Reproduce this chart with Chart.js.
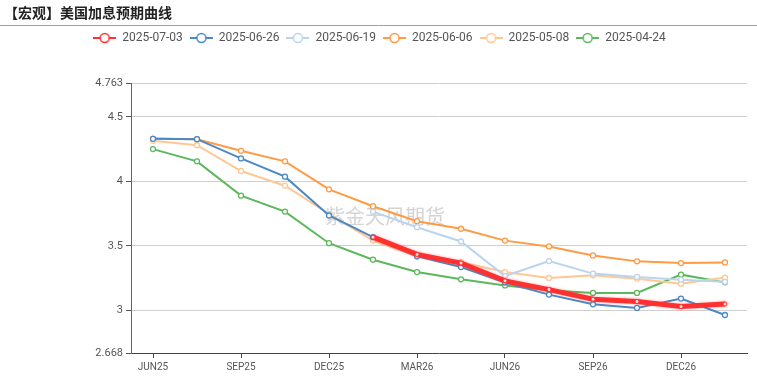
<!DOCTYPE html>
<html>
<head>
<meta charset="utf-8">
<script src="https://cdn.jsdelivr.net/npm/chart.js@4.4.1/dist/chart.umd.min.js"></script>
<style>
html,body{margin:0;padding:0;background:#fff;}
#wrap{position:relative;width:757px;height:381px;}
</style>
</head>
<body>
<div id="wrap"><canvas id="c" width="757" height="381"></canvas></div>
<script>
const titleText = '【宏观】美国加息预期曲线';
const watermarkText = '紫金天风期货';
const categories = ['JUN25','JUL25','SEP25','OCT25','DEC25','JAN26','MAR26','APR26','JUN26','JUL26','SEP26','OCT26','DEC26','JAN27'];
const seriesNames = ['2025-07-03','2025-06-26','2025-06-19','2025-06-06','2025-05-08','2025-04-24'];
const s20250703 = [null,null,null,null,null,3.567,3.433,3.366,3.228,3.160,3.085,3.067,3.028,3.048];
const s20250626 = [4.330,4.327,4.178,4.036,3.735,3.567,3.418,3.335,3.215,3.121,3.046,3.018,3.090,2.963];
const s20250619 = [null,null,null,null,null,3.765,3.644,3.533,3.265,3.381,3.284,3.258,3.237,3.220];
const s20250606 = [4.332,4.327,4.237,4.155,3.938,3.807,3.691,3.632,3.540,3.495,3.425,3.379,3.366,3.371];
const s20250508 = [4.314,4.280,4.080,3.966,3.748,3.541,3.418,3.373,3.296,3.250,3.271,3.245,3.206,3.253];
const s20250424 = [4.250,4.155,3.889,3.765,3.520,3.392,3.296,3.240,3.192,3.155,3.134,3.134,3.276,3.216];
const yTicks = [2.668,3,3.5,4,4.5,4.763];
const yMin = 2.668, yMax = 4.763;

const colors = ['#ff3030','#4a88c6','#bcd3ee','#ff9a45','#ffc793','#5cb85c'];
const widths = [5,2,2,2,2,2];
const allData = [s20250703,s20250626,s20250619,s20250606,s20250508,s20250424];

function legendIcon(color){
  const cv = document.createElement('canvas');
  cv.width = 23; cv.height = 12;
  const g = cv.getContext('2d');
  g.strokeStyle = color; g.lineWidth = 2;
  g.beginPath(); g.moveTo(0,6); g.lineTo(23,6); g.stroke();
  g.beginPath(); g.arc(11.5,6,4.5,0,Math.PI*2);
  g.fillStyle = '#fff'; g.fill();
  g.lineWidth = 1.5; g.stroke();
  return cv;
}
const icons = colors.map(legendIcon);

const datasets = seriesNames.map((n,i)=>({
  label: n,
  data: allData[i],
  borderColor: colors[i],
  backgroundColor: colors[i],
  borderWidth: widths[i],
  pointRadius: i===0 ? 2 : 2.5,
  pointHoverRadius: 3,
  pointBackgroundColor: '#fff',
  pointBorderColor: colors[i],
  pointBorderWidth: i===0 ? 1 : 1.3,
  tension: 0,
  spanGaps: false,
  fill: false
}));

const decor = {
  id: 'decor',
  afterInit(chart){
    const lg = chart.legend;
    if (lg && !lg._wrapped){
      const orig = lg.fit.bind(lg);
      lg.fit = function(){ orig(); this.height += 29; };
      lg._wrapped = true;
    }
  },
  beforeDatasetsDraw(chart){
    const ctx = chart.ctx;
    ctx.save();
    ctx.font = '20px "Noto Sans CJK SC"';
    ctx.fillStyle = 'rgba(160,160,160,0.45)';
    ctx.textAlign = 'center';
    ctx.textBaseline = 'middle';
    ctx.fillText(watermarkText, 385, 216);
    ctx.restore();
  },
  beforeDatasetDraw(chart, args){
    if (args.index === 0){
      chart.ctx.save();
      chart.ctx.shadowColor = 'rgba(255,40,40,0.4)';
      chart.ctx.shadowBlur = 3;
    }
  },
  afterDatasetDraw(chart, args){
    if (args.index === 0) chart.ctx.restore();
  },
  afterDraw(chart){
    const ctx = chart.ctx;
    ctx.save();
    ctx.font = 'bold 14px "Noto Sans CJK SC"';
    ctx.fillStyle = '#222';
    ctx.textAlign = 'left';
    ctx.textBaseline = 'middle';
    ctx.fillText(titleText, 4, 13);
    ctx.strokeStyle = '#a0a0a0';
    ctx.lineWidth = 1;
    ctx.beginPath(); ctx.moveTo(0,25.5); ctx.lineTo(757,25.5); ctx.stroke();
    ctx.restore();
  }
};

new Chart(document.getElementById('c'), {
  type: 'line',
  data: { labels: categories, datasets },
  plugins: [decor],
  options: {
    responsive: false,
    animation: false,
    devicePixelRatio: 1,
    layout: { padding: { top: 25, right: 10, left: 12, bottom: 0 } },
    plugins: {
      legend: {
        position: 'top',
        align: 'center',
        labels: {
          usePointStyle: true,
          pointStyleWidth: 23,
          padding: 7,
          color: '#555',
          font: { family: 'Roboto', size: 12 },
          generateLabels(chart){
            return chart.data.datasets.map((d,i)=>({
              text: d.label,
              fillStyle: '#fff',
              strokeStyle: colors[i],
              lineWidth: 0,
              pointStyle: icons[i],
              fontColor: '#555',
              hidden: false,
              datasetIndex: i
            }));
          }
        }
      },
      title: { display: false },
      tooltip: { enabled: false }
    },
    scales: {
      x: {
        type: 'category',
        offset: true,
        afterFit(scale){ scale.height = 28; },
        grid: { drawOnChartArea: false, drawTicks: true, tickLength: 5, tickColor: '#444', offset: false },
        border: { color: '#444', width: 1 },
        ticks: {
          autoSkip: false,
          maxRotation: 0,
          padding: 3,
          color: '#555',
          font: { family: 'Roboto', size: 10 },
          callback(v, i){ return i % 2 === 0 ? categories[i] : null; }
        }
      },
      y: {
        min: yMin,
        max: yMax,
        afterFit(scale){ scale.width = 119; },
        afterBuildTicks(scale){ scale.ticks = yTicks.map(v=>({value:v})); },
        grid: { color(ctx){ return ctx.tick && ctx.tick.value === yMin ? 'rgba(0,0,0,0)' : '#cfcfcf'; }, tickLength: 5, tickColor: '#555', lineWidth: 1 },
        border: { color: '#666', width: 1 },
        ticks: {
          padding: 3,
          color: '#555',
          font: { family: 'Roboto', size: 11 },
          callback(v){ return String(v); }
        }
      }
    }
  }
});
</script>
</body>
</html>
